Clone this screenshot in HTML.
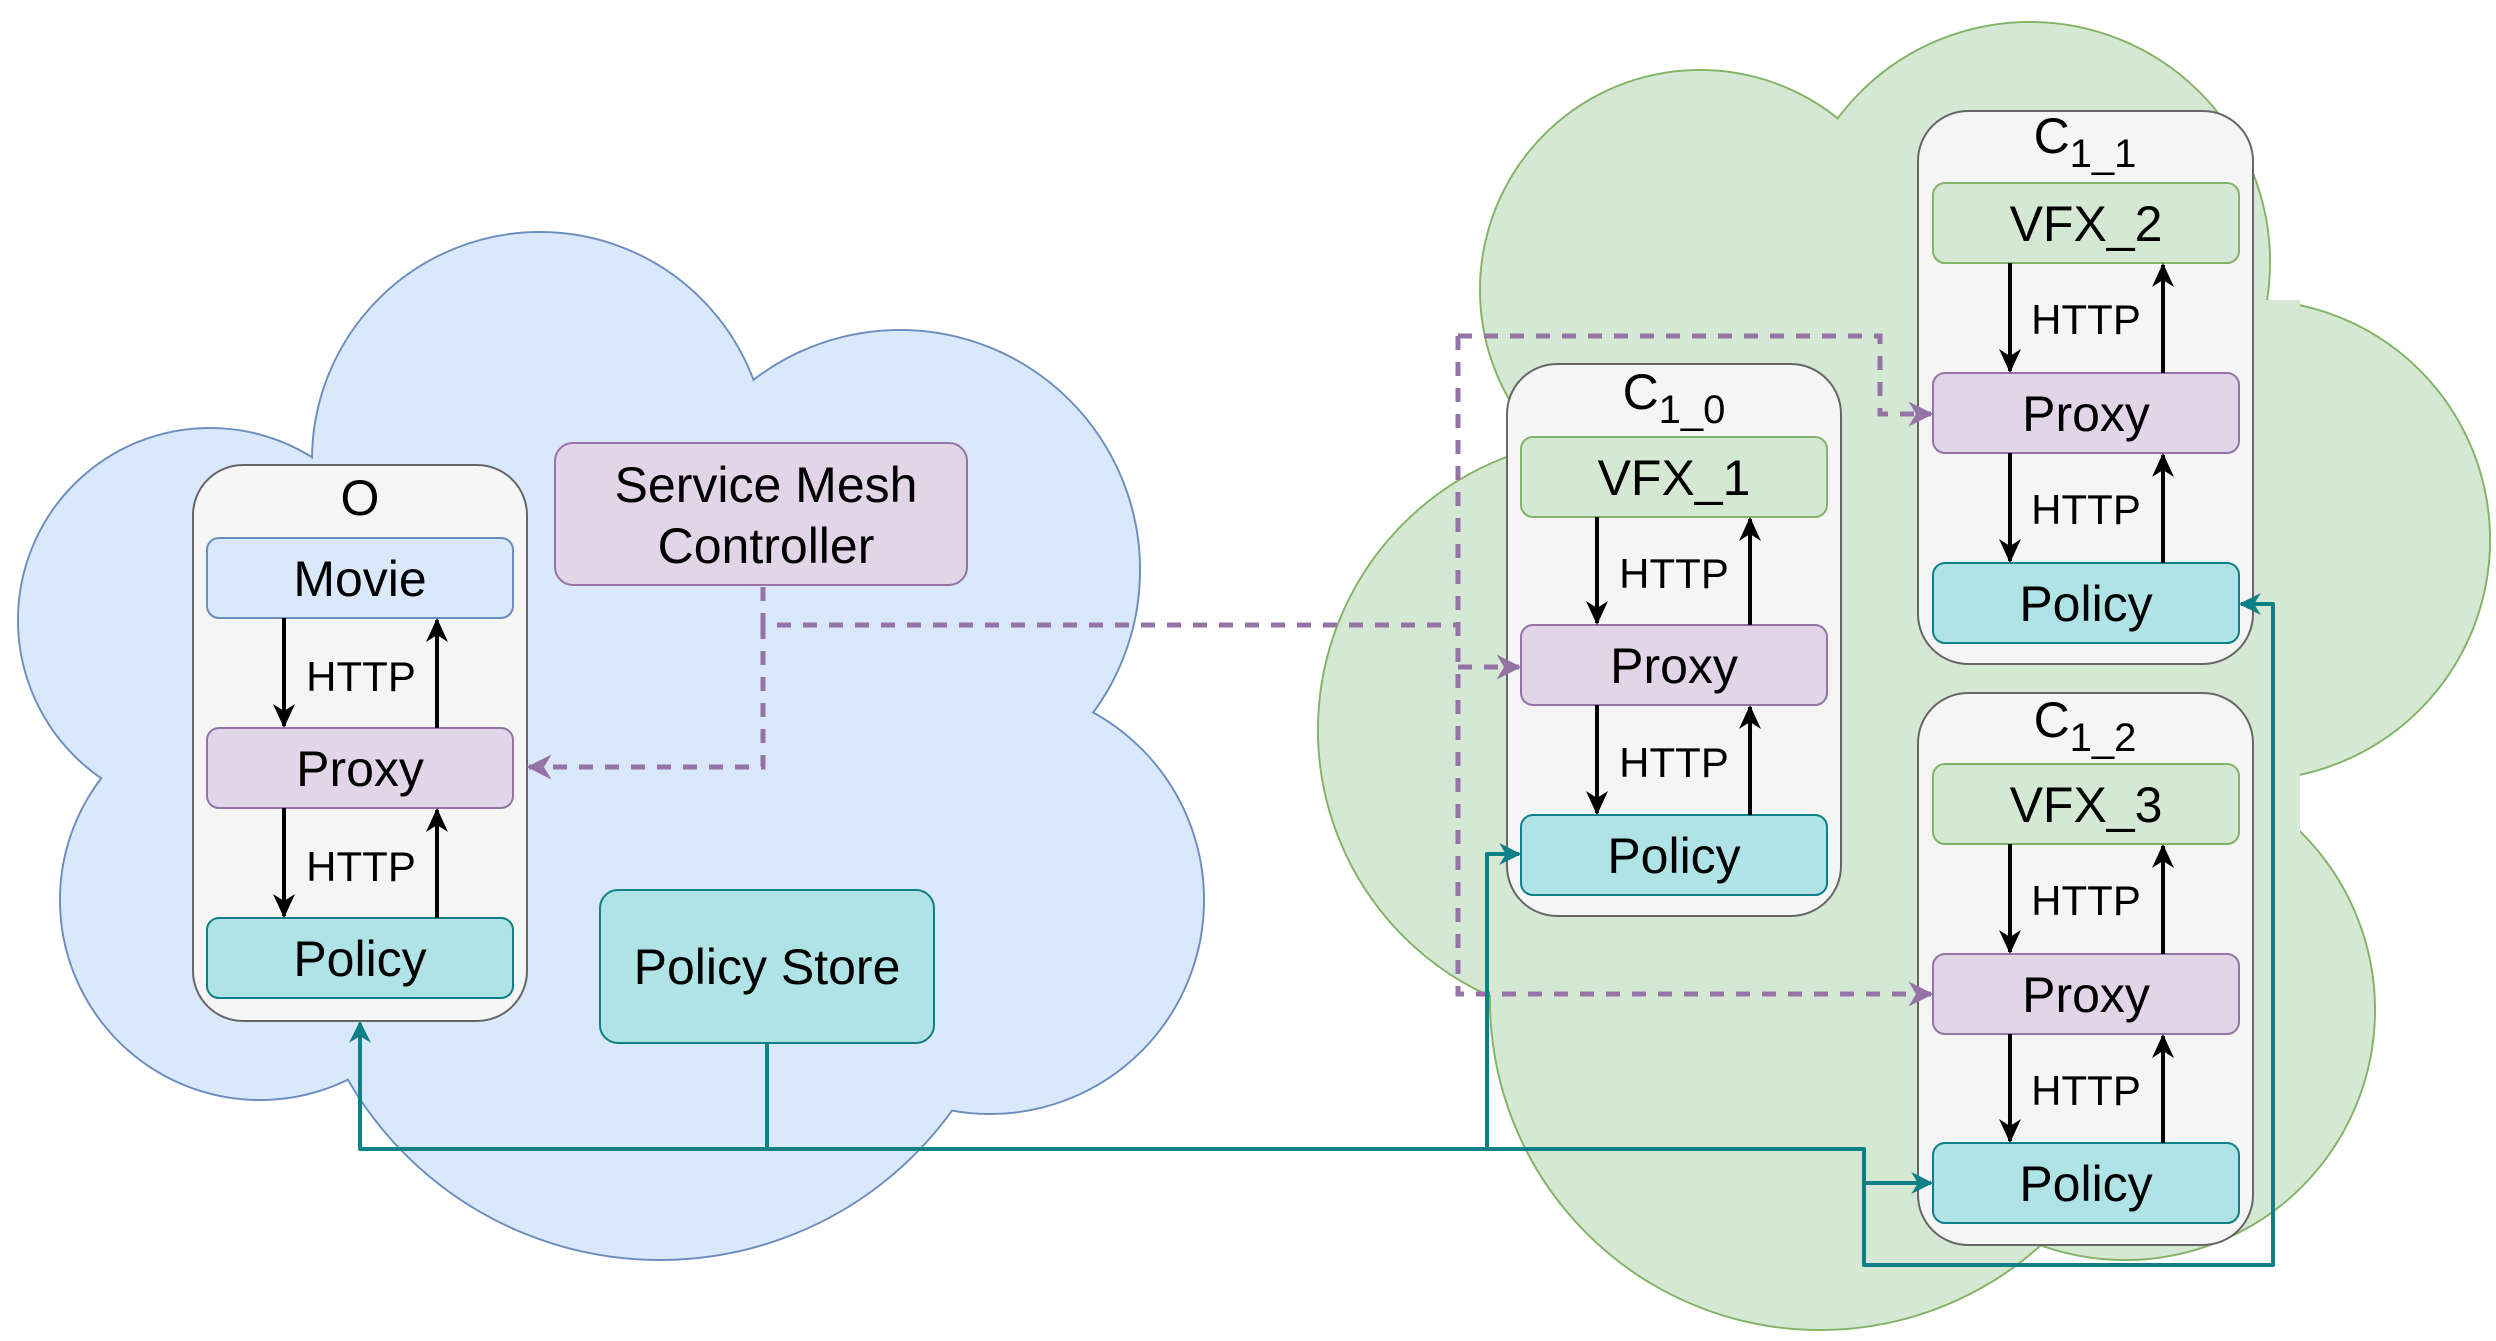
<!DOCTYPE html>
<html><head><meta charset="utf-8"><style>
html,body{margin:0;padding:0;background:#fff;}
svg{display:block;}
text{font-family:"Liberation Sans",Arial,sans-serif;fill:#000;}
</style></head><body>
<svg width="2496" height="1341" viewBox="0 0 2496 1341" xmlns="http://www.w3.org/2000/svg">
<defs>
<marker id="ab" markerWidth="24" markerHeight="24" refX="22" refY="12" orient="auto" markerUnits="userSpaceOnUse" viewBox="0 0 24 24"><path d="M0,1 L24,12 L0,23 L7,12 Z" fill="#000"/></marker>
<marker id="ap" viewBox="0 0 10 10" refX="9" refY="5" markerWidth="5" markerHeight="5" orient="auto"><path d="M0,0 L10,5 L0,10 L3,5 Z" fill="#9673a6"/></marker>
<marker id="at" viewBox="0 0 10 10" refX="9" refY="5" markerWidth="5.5" markerHeight="5.5" orient="auto"><path d="M0,0 L10,5 L0,10 L3,5 Z" fill="#0e8088"/></marker>
</defs>
<!-- blue cloud -->
<g stroke="#6c8ebf" stroke-width="2" fill="#dae8fc">
<circle cx="210" cy="620" r="192"/><circle cx="540" cy="460" r="228"/><circle cx="900" cy="570" r="240"/>
<circle cx="990" cy="900" r="214"/><circle cx="660" cy="900" r="360"/><circle cx="260" cy="900" r="200"/>
</g>
<g fill="#dae8fc">
<circle cx="210" cy="620" r="191"/><circle cx="540" cy="460" r="227"/><circle cx="900" cy="570" r="239"/>
<circle cx="990" cy="900" r="213"/><circle cx="660" cy="900" r="359"/><circle cx="260" cy="900" r="199"/>
<rect x="250" y="520" width="800" height="500"/>
</g>
<!-- green cloud -->
<g stroke="#82b366" stroke-width="2" fill="#d5e8d4">
<circle cx="1700" cy="290" r="220"/><circle cx="2030" cy="262" r="240"/><circle cx="2250" cy="540" r="240"/>
<circle cx="2125" cy="1010" r="250"/><circle cx="1820" cy="1000" r="330"/><circle cx="1610" cy="730" r="292"/>
</g>
<g fill="#d5e8d4">
<circle cx="1700" cy="290" r="219"/><circle cx="2030" cy="262" r="239"/><circle cx="2250" cy="540" r="239"/>
<circle cx="2125" cy="1010" r="249"/><circle cx="1820" cy="1000" r="329"/><circle cx="1610" cy="730" r="291"/>
<rect x="1600" y="300" width="700" height="700"/>
</g>

<!-- containers -->
<g fill="#f5f5f5" stroke="#666" stroke-width="2">
<rect x="193" y="465" width="334" height="556" rx="50"/>
<rect x="1507" y="364" width="334" height="552" rx="50"/>
<rect x="1918" y="111" width="335" height="553" rx="50"/>
<rect x="1918" y="693" width="335" height="552" rx="50"/>
</g>
<g font-size="50" text-anchor="middle">
<text x="360" y="515">O</text>
<text x="1674" y="409">C<tspan font-size="40" dy="14">1_0</tspan></text>
<text x="2085" y="153">C<tspan font-size="40" dy="14">1_1</tspan></text>
<text x="2085" y="737">C<tspan font-size="40" dy="14">1_2</tspan></text>
</g>

<!-- inner boxes -->
<g stroke-width="2">
<rect x="207" y="538" width="306" height="80" rx="12" fill="#dae8fc" stroke="#6c8ebf"/>
<rect x="207" y="728" width="306" height="80" rx="12" fill="#e1d5e7" stroke="#9673a6"/>
<rect x="207" y="918" width="306" height="80" rx="12" fill="#b0e3e6" stroke="#0e8088"/>
<rect x="1521" y="437" width="306" height="80" rx="12" fill="#d5e8d4" stroke="#82b366"/>
<rect x="1521" y="625" width="306" height="80" rx="12" fill="#e1d5e7" stroke="#9673a6"/>
<rect x="1521" y="815" width="306" height="80" rx="12" fill="#b0e3e6" stroke="#0e8088"/>
<rect x="1933" y="183" width="306" height="80" rx="12" fill="#d5e8d4" stroke="#82b366"/>
<rect x="1933" y="373" width="306" height="80" rx="12" fill="#e1d5e7" stroke="#9673a6"/>
<rect x="1933" y="563" width="306" height="80" rx="12" fill="#b0e3e6" stroke="#0e8088"/>
<rect x="1933" y="764" width="306" height="80" rx="12" fill="#d5e8d4" stroke="#82b366"/>
<rect x="1933" y="954" width="306" height="80" rx="12" fill="#e1d5e7" stroke="#9673a6"/>
<rect x="1933" y="1143" width="306" height="80" rx="12" fill="#b0e3e6" stroke="#0e8088"/>
<rect x="555" y="443" width="412" height="142" rx="18" fill="#e1d5e7" stroke="#9673a6"/>
<rect x="600" y="890" width="334" height="153" rx="18" fill="#b0e3e6" stroke="#0e8088"/>
</g>
<g font-size="50" text-anchor="middle">
<text x="360" y="596">Movie</text>
<text x="360" y="786">Proxy</text>
<text x="360" y="976">Policy</text>
<text x="1674" y="495">VFX_1</text>
<text x="1674" y="683">Proxy</text>
<text x="1674" y="873">Policy</text>
<text x="2086" y="241">VFX_2</text>
<text x="2086" y="431">Proxy</text>
<text x="2086" y="621">Policy</text>
<text x="2086" y="822">VFX_3</text>
<text x="2086" y="1012">Proxy</text>
<text x="2086" y="1201">Policy</text>
<text x="766" y="502">Service Mesh</text>
<text x="766" y="563">Controller</text>
<text x="767" y="984">Policy Store</text>
</g>

<!-- HTTP arrows -->
<g stroke="#000" stroke-width="4" fill="none">
<line x1="284" y1="618" x2="284" y2="726" marker-end="url(#ab)"/>
<line x1="437" y1="728" x2="437" y2="620" marker-end="url(#ab)"/>
<line x1="284" y1="808" x2="284" y2="916" marker-end="url(#ab)"/>
<line x1="437" y1="918" x2="437" y2="810" marker-end="url(#ab)"/>
<line x1="1597" y1="517" x2="1597" y2="623" marker-end="url(#ab)"/>
<line x1="1750" y1="625" x2="1750" y2="519" marker-end="url(#ab)"/>
<line x1="1597" y1="705" x2="1597" y2="813" marker-end="url(#ab)"/>
<line x1="1750" y1="815" x2="1750" y2="707" marker-end="url(#ab)"/>
<line x1="2010" y1="263" x2="2010" y2="371" marker-end="url(#ab)"/>
<line x1="2163" y1="373" x2="2163" y2="265" marker-end="url(#ab)"/>
<line x1="2010" y1="453" x2="2010" y2="561" marker-end="url(#ab)"/>
<line x1="2163" y1="563" x2="2163" y2="455" marker-end="url(#ab)"/>
<line x1="2010" y1="844" x2="2010" y2="952" marker-end="url(#ab)"/>
<line x1="2163" y1="954" x2="2163" y2="846" marker-end="url(#ab)"/>
<line x1="2010" y1="1034" x2="2010" y2="1141" marker-end="url(#ab)"/>
<line x1="2163" y1="1143" x2="2163" y2="1036" marker-end="url(#ab)"/>
</g>
<g font-size="42" text-anchor="middle">
<text x="361" y="691">HTTP</text><text x="361" y="881">HTTP</text>
<text x="1674" y="588">HTTP</text><text x="1674" y="777">HTTP</text>
<text x="2086" y="334">HTTP</text><text x="2086" y="524">HTTP</text>
<text x="2086" y="915">HTTP</text><text x="2086" y="1105">HTTP</text>
</g>

<!-- purple dashed -->
<g stroke="#9673a6" stroke-width="5" fill="none" stroke-dasharray="14,12">
<path d="M763,587 L763,625 L1458,625"/>
<path d="M763,625 L763,767 L529,767" marker-end="url(#ap)"/>
<path d="M1458,336 L1458,994 L1931,994" marker-end="url(#ap)"/>
<path d="M1458,336 L1880,336 L1880,414 L1931,414" marker-end="url(#ap)"/>
<path d="M1458,667 L1519,667" marker-end="url(#ap)"/>
</g>

<!-- teal lines -->
<g stroke="#0e8088" stroke-width="4" fill="none" stroke-linejoin="round">
<path d="M767,1043 L767,1149 L360,1149 L360,1023" marker-end="url(#at)"/>
<path d="M767,1149 L1487,1149 L1487,854 L1519,854" marker-end="url(#at)"/>
<path d="M1487,1149 L1864,1149 L1864,1183 L1931,1183" marker-end="url(#at)"/>
<path d="M1864,1183 L1864,1265 L2273,1265 L2273,604 L2241,604" marker-end="url(#at)"/>
</g>
</svg>
</body></html>
